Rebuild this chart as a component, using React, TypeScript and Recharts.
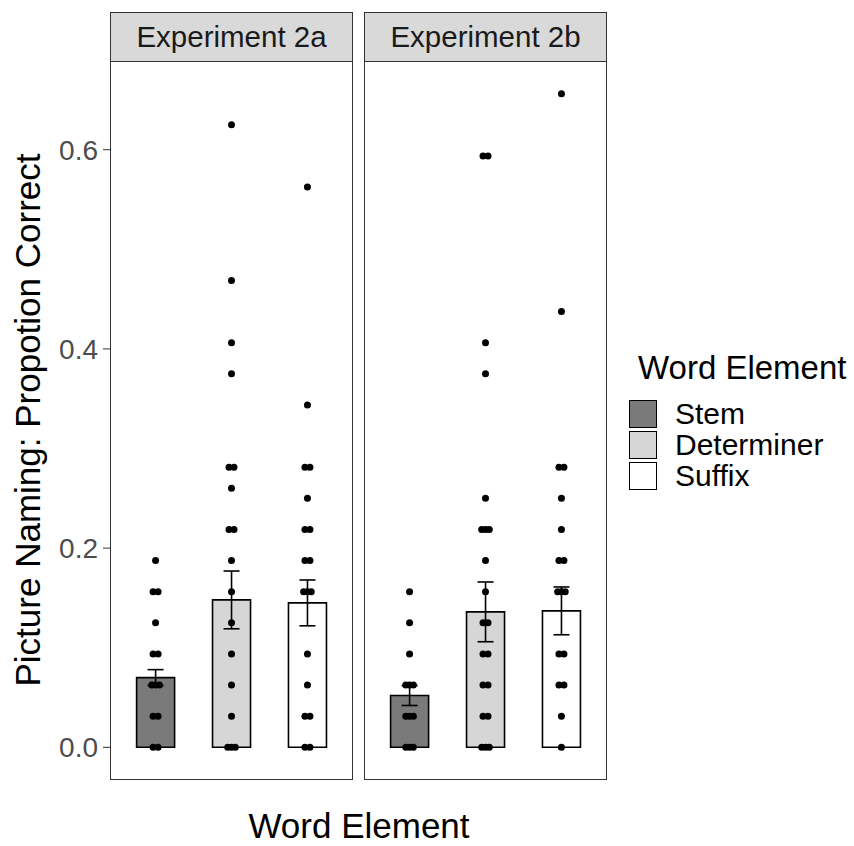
import React from "react";
import { Bar, ComposedChart, ErrorBar, Scatter, XAxis, YAxis } from "recharts";

// word element levels and fills
const elements = ["Stem", "Determiner", "Suffix"];
const fills = ["#7a7a7a", "#d6d6d6", "#ffffff"];

// bar heights (mean proportion correct) and standard errors
const means2a = [0.07, 0.148, 0.145];
const se2a = [0.008, 0.029, 0.023];
const means2b = [0.052, 0.136, 0.137];
const se2b = [0.01, 0.03, 0.024];

// individual scores per element
const stem2a = [0.1875, 0.15625, 0.15625, 0.125, 0.09375, 0.09375, 0.0625, 0.0625, 0.0625, 0.03125, 0.03125, 0, 0];
const det2a = [0.625, 0.46875, 0.40625, 0.375, 0.28125, 0.28125, 0.26, 0.21875, 0.21875, 0.1875, 0.15625, 0.125, 0.09375, 0.0625, 0.03125, 0, 0, 0];
const suf2a = [0.5625, 0.34375, 0.28125, 0.28125, 0.25, 0.21875, 0.21875, 0.1875, 0.1875, 0.15625, 0.15625, 0.15625, 0.09375, 0.0625, 0.03125, 0.03125, 0, 0];
const stem2b = [0.15625, 0.125, 0.09375, 0.0625, 0.0625, 0.0625, 0.03125, 0.03125, 0.03125, 0, 0, 0];
const det2b = [0.59375, 0.59375, 0.40625, 0.375, 0.25, 0.21875, 0.21875, 0.21875, 0.1875, 0.15625, 0.125, 0.125, 0.09375, 0.09375, 0.0625, 0.0625, 0.03125, 0.03125, 0, 0, 0];
const suf2b = [0.65625, 0.4375, 0.28125, 0.28125, 0.25, 0.21875, 0.1875, 0.1875, 0.15625, 0.15625, 0.15625, 0.09375, 0.09375, 0.0625, 0.0625, 0.03125, 0];

const yTicks = [0, 0.2, 0.4, 0.6];
const yDomain = [-0.0328125, 0.6890625];

const FONT = "'Liberation Sans', Arial, sans-serif";
const PANEL_TOP = 61;
const PANEL_H = 719;
const PANEL_W = 243;
const AXIS_W = 110;

function barRows(means: number[], se: number[]) {
  return elements.map((e, i) => ({ element: e, mean: means[i], se: se[i], fill: fills[i] }));
}

// collapse repeated scores so overlapping dots can be spread a little
function pointRows(groups: number[][]) {
  const rows: { x: number; y: number; n: number }[] = [];
  groups.forEach((vals, gi) => {
    const counts = new Map<number, number>();
    vals.forEach((v) => counts.set(v, (counts.get(v) || 0) + 1));
    counts.forEach((n, v) => rows.push({ x: gi + 1, y: v, n }));
  });
  return rows;
}

function Dots(props: any) {
  const { cx, cy, payload } = props;
  const n = Math.min(payload.n, 3);
  const offs = n === 1 ? [0] : n === 2 ? [-2.5, 2.5] : [-3.8, 0, 3.8];
  return (
    <g>
      {offs.map((o, i) => (
        <circle key={i} cx={cx + o} cy={cy} r={3.5} fill="#000" />
      ))}
    </g>
  );
}

function Panel({ bars, points, showY, left, title }: any) {
  const chartW = showY ? AXIS_W + PANEL_W : PANEL_W;
  const x0 = showY ? left - AXIS_W : left;
  return (
    <>
      <div
        style={{
          position: "absolute",
          left,
          top: 12,
          width: PANEL_W - 2,
          height: PANEL_TOP - 12 - 1,
          background: "#d9d9d9",
          border: "1px solid #333",
          display: "flex",
          alignItems: "center",
          justifyContent: "center",
          fontSize: 29.5,
          color: "#1a1a1a",
        }}
      >
        {title}
      </div>
      <div style={{ position: "absolute", left: x0, top: PANEL_TOP }}>
        <ComposedChart
          width={chartW}
          height={PANEL_H + 10}
          data={bars}
          margin={{ top: 0, right: 0, bottom: 0, left: 0 }}
        >
          <XAxis
            xAxisId="cat"
            dataKey="element"
            type="category"
            height={10}
            padding={{ left: 7.6, right: 7.6 }}
            axisLine={false}
            tickSize={6}
            tickLine={{ stroke: "#333", strokeWidth: 1 }}
            tick={false}
          />
          <XAxis xAxisId="pts" type="number" dataKey="x" domain={[0.4, 3.6]} hide allowDataOverflow />
          <YAxis
            type="number"
            domain={yDomain}
            ticks={yTicks}
            allowDataOverflow
            hide={!showY}
            width={AXIS_W}
            axisLine={false}
            tickSize={7}
            tickMargin={5}
            tickLine={{ stroke: "#333", strokeWidth: 1 }}
            tick={{ fontSize: 28, fill: "#4d4d4d", fontFamily: FONT }}
            tickFormatter={(v: number) => v.toFixed(1)}
          />
          <Bar
            xAxisId="cat"
            dataKey="mean"
            barSize={38}
            stroke="#000"
            strokeWidth={1.6}
            isAnimationActive={false}
          >
            <ErrorBar dataKey="se" width={8} stroke="#000" strokeWidth={1.6} />
          </Bar>
          <Scatter
            xAxisId="pts"
            data={points}
            dataKey="y"
            shape={<Dots />}
            isAnimationActive={false}
          />
        </ComposedChart>
      </div>
      <div
        style={{
          position: "absolute",
          left,
          top: PANEL_TOP,
          width: PANEL_W - 2,
          height: PANEL_H - 2,
          border: "1px solid #333",
          pointerEvents: "none",
        }}
      />
    </>
  );
}

export default function App() {
  const bars2a = barRows(means2a, se2a);
  const bars2b = barRows(means2b, se2b);
  const pts2a = pointRows([stem2a, det2a, suf2a]);
  const pts2b = pointRows([stem2b, det2b, suf2b]);

  return (
    <div
      style={{
        position: "absolute",
        left: 0,
        top: 0,
        width: 854,
        height: 846,
        background: "#fff",
        fontFamily: FONT,
        overflow: "hidden",
      }}
    >
      <Panel bars={bars2a} points={pts2a} showY left={110} title="Experiment 2a" />
      <Panel bars={bars2b} points={pts2b} showY={false} left={364} title="Experiment 2b" />

      <div
        style={{
          position: "absolute",
          left: 28,
          top: 420,
          transform: "translate(-50%, -50%) rotate(-90deg)",
          whiteSpace: "nowrap",
          fontSize: 35,
          color: "#000",
        }}
      >
        Picture Naming: Propotion Correct
      </div>
      <div
        style={{
          position: "absolute",
          left: 359,
          top: 826,
          transform: "translate(-50%, -50%)",
          whiteSpace: "nowrap",
          fontSize: 35,
          color: "#000",
        }}
      >
        Word Element
      </div>

      <div style={{ position: "absolute", left: 638, top: 368, transform: "translateY(-50%)", fontSize: 33, whiteSpace: "nowrap" }}>
        Word Element
      </div>
      {elements.map((e, i) => (
        <div key={e}>
          <div
            style={{
              position: "absolute",
              left: 629,
              top: 400 + i * 31,
              width: 26,
              height: 26,
              background: fills[i],
              border: "1.5px solid #000",
            }}
          />
          <div
            style={{
              position: "absolute",
              left: 675,
              top: 414 + i * 31,
              transform: "translateY(-50%)",
              fontSize: 30,
              whiteSpace: "nowrap",
            }}
          >
            {e}
          </div>
        </div>
      ))}
    </div>
  );
}
